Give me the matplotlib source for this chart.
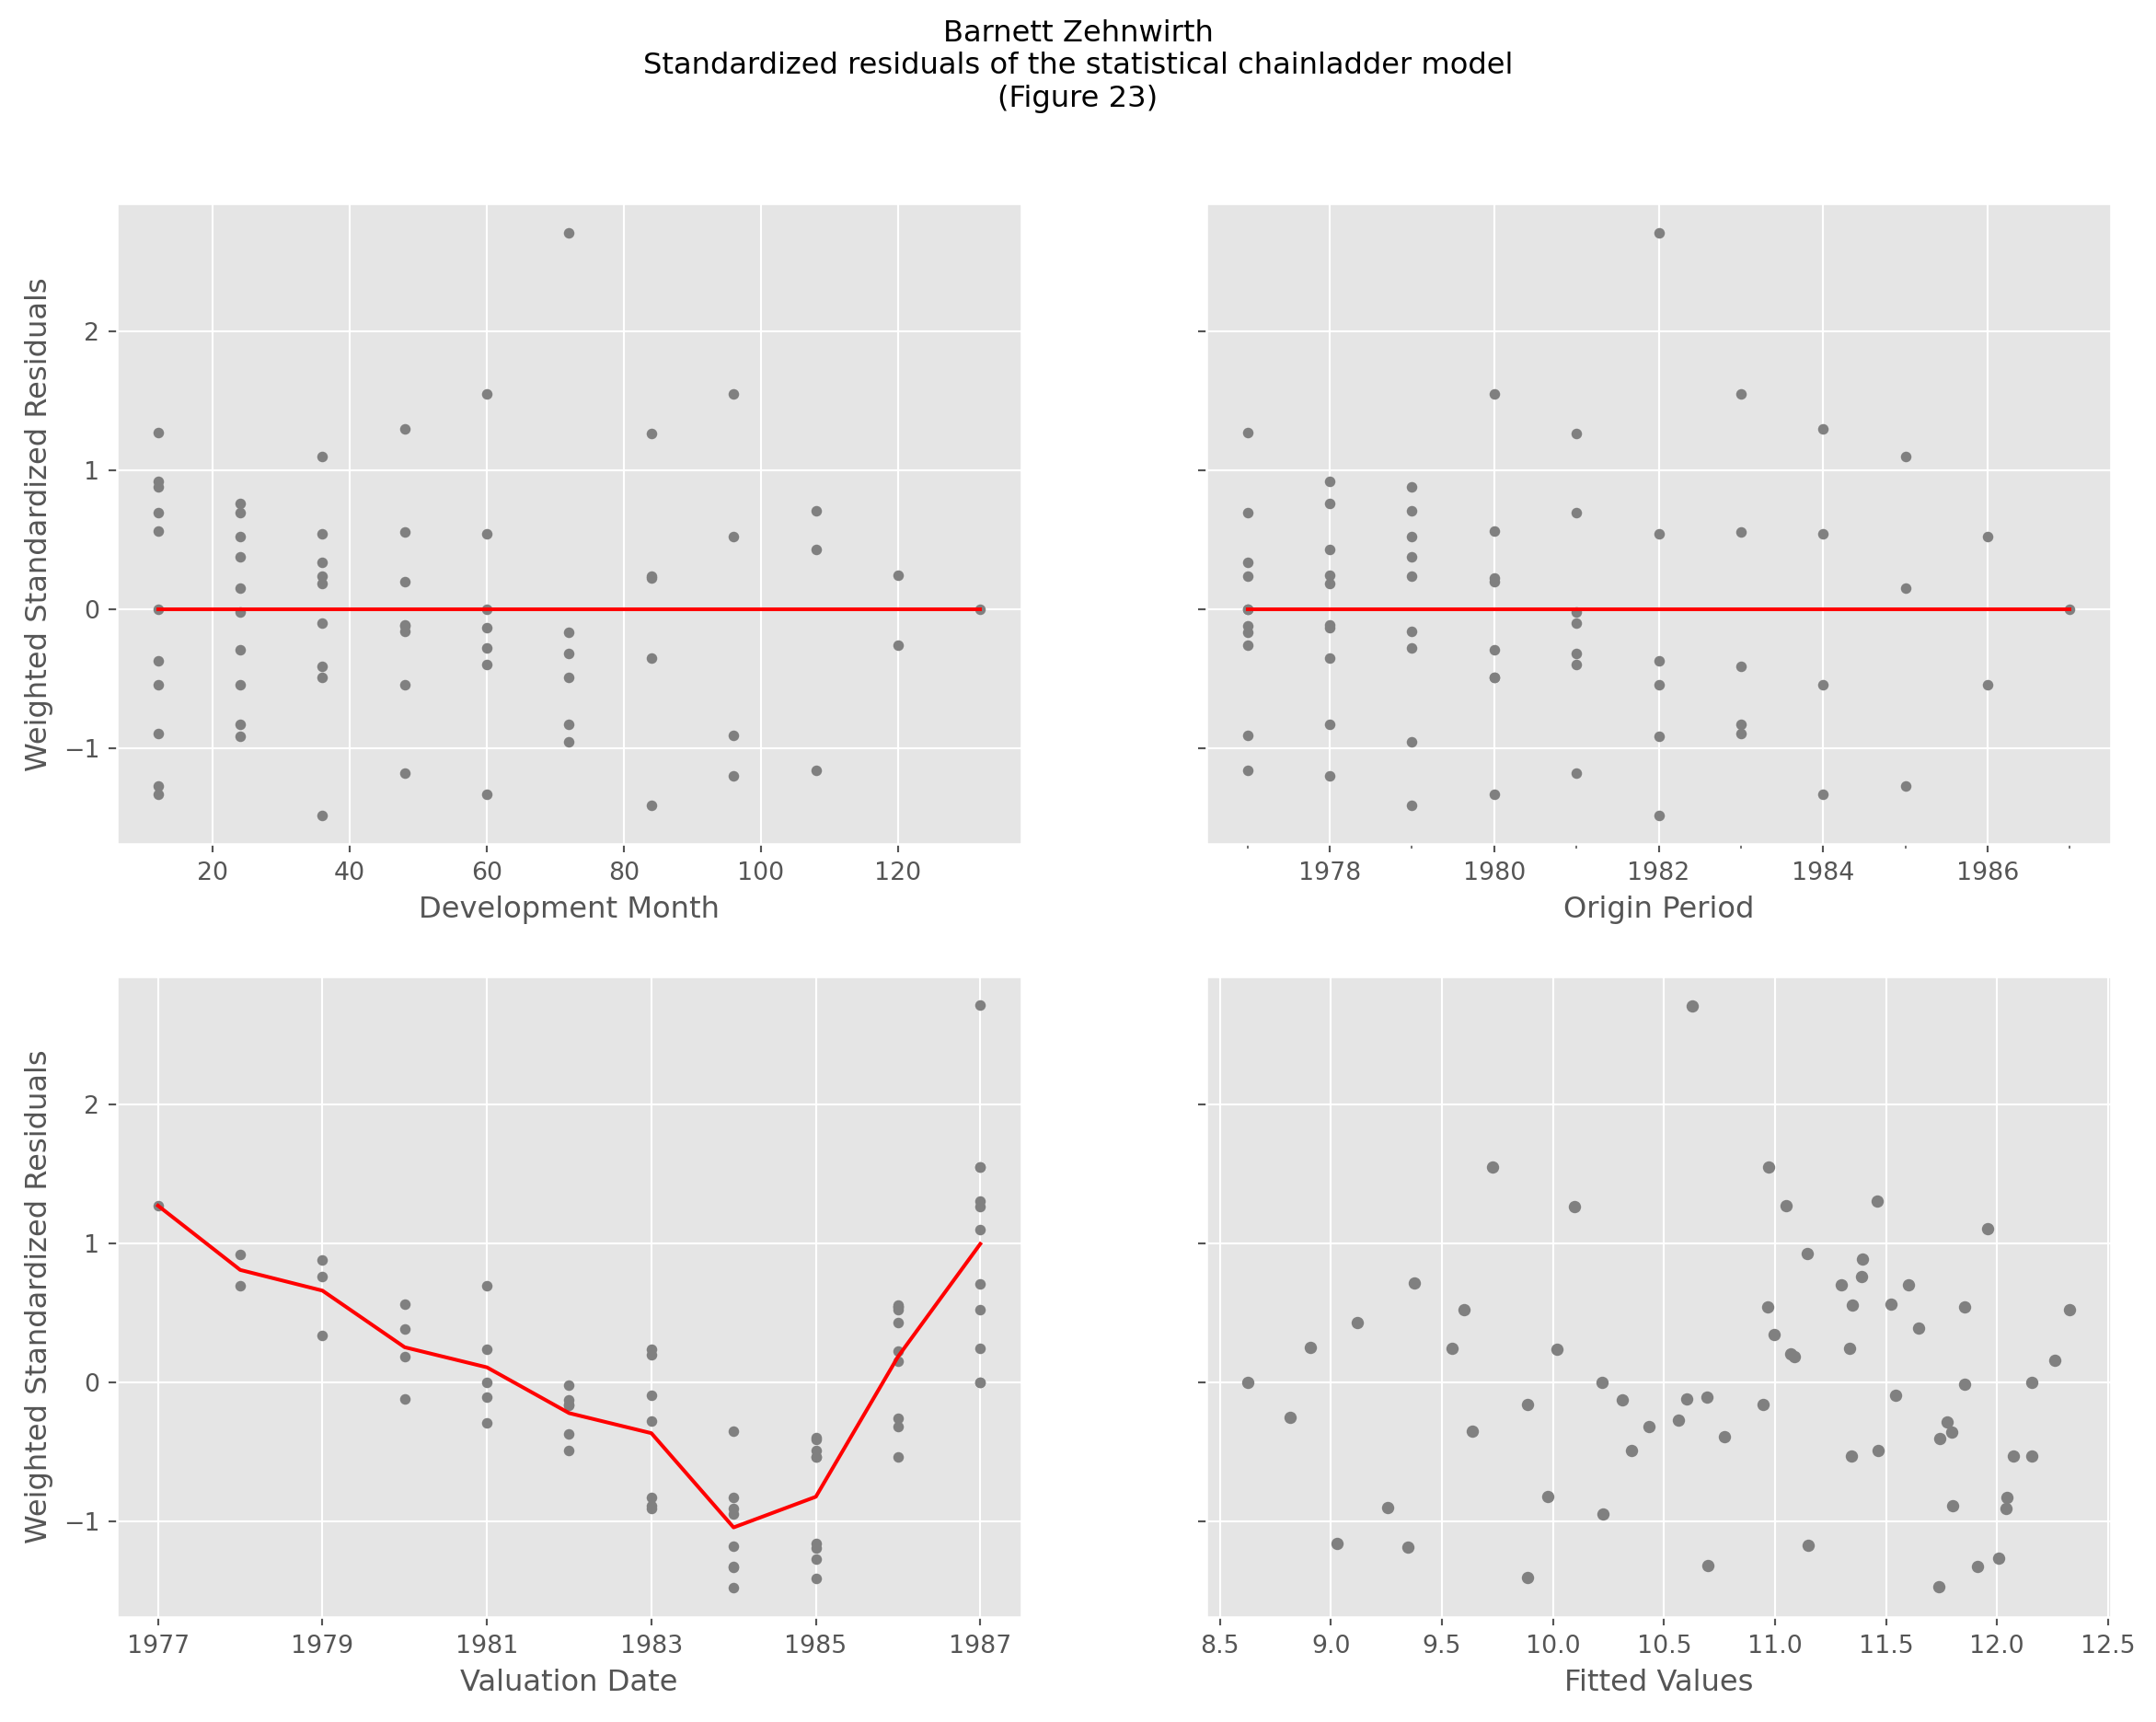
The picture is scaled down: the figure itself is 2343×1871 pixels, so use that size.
import matplotlib
matplotlib.use("Agg")
import matplotlib.pyplot as plt
import numpy as np
import pandas as pd

plt.style.use("ggplot")

# ---- data -------------------------------------------------------------
origins = [1977, 1978, 1979, 1980, 1981, 1982, 1983, 1984, 1985, 1986, 1987]
dev_months = [12, 24, 36, 48, 60, 72, 84, 96, 108, 120, 132]

# weighted standardized residuals, one row per origin period (by development)
resid_1977 = [1.27, 0.695, 0.336, -0.12, 0.0, -0.164, 0.24, -0.906, -1.16, -0.26, 0.0]
resid_1978 = [0.92, 0.76, 0.186, -0.11, -0.13, -0.83, -0.352, -1.195, 0.428, 0.245]
resid_1979 = [0.88, 0.38, 0.24, -0.16, -0.277, -0.95, -1.41, 0.522, 0.71]
resid_1980 = [0.56, -0.29, -0.49, 0.198, -1.327, -0.49, 0.226, 1.547]
resid_1981 = [0.695, -0.02, -0.097, -1.18, -0.40, -0.32, 1.264]
resid_1982 = [-0.37, -0.91, -1.48, -0.54, 0.54, 2.71]
resid_1983 = [-0.89, -0.83, -0.41, 0.553, 1.547]
resid_1984 = [-1.33, -0.54, 0.54, 1.30]
resid_1985 = [-1.27, 0.154, 1.10]
resid_1986 = [-0.54, 0.52]
resid_1987 = [0.0]

# trend lines of the top panels
dev_trend = [0.0] * len(dev_months)
origin_trend = [0.0] * len(origins)

# fitted values panel
fitted_x = [8.624, 8.814, 8.905, 9.029, 9.118, 9.256, 9.347, 9.376, 9.545, 9.599,
            9.636, 9.727, 9.884, 9.887, 9.975, 10.017, 10.095, 10.223, 10.227, 10.313,
            10.354, 10.434, 10.565, 10.603, 10.628, 10.695, 10.699, 10.773, 10.946, 10.967,
            10.971, 10.994, 11.049, 11.071, 11.088, 11.144, 11.151, 11.300, 11.338, 11.344,
            11.349, 11.391, 11.396, 11.460, 11.464, 11.523, 11.544, 11.601, 11.647, 11.736,
            11.742, 11.774, 11.795, 11.799, 11.852, 11.852, 11.911, 11.957, 12.008, 12.046,
            12.042, 12.075, 12.158, 12.158, 12.261, 12.328]
fitted_y = [0.0, -0.256, 0.25, -1.157, 0.431, -0.90, -1.187, 0.714, 0.241, 0.524,
            -0.349, 1.545, -0.16, -1.407, -0.822, 0.235, 1.265, 0.0, -0.946, -0.127,
            -0.488, -0.316, -0.271, -0.12, 2.708, -0.105, -1.319, -0.395, -0.16, 0.542,
            1.545, 0.34, 1.271, 0.205, 0.187, 0.925, -1.175, 0.699, 0.241, -0.53,
            0.557, 0.759, 0.886, 1.304, -0.488, 0.563, -0.093, 0.699, 0.386, -1.47,
            -0.404, -0.283, -0.361, -0.886, 0.542, -0.015, -1.325, 1.102, -1.265, -0.828,
            -0.907, -0.53, 0.0, -0.53, 0.157, 0.524]

rows = [resid_1977, resid_1978, resid_1979, resid_1980, resid_1981, resid_1982,
        resid_1983, resid_1984, resid_1985, resid_1986, resid_1987]
records = []
for o, row in zip(origins, rows):
    for j, r in enumerate(row):
        records.append({"origin": o, "dev": dev_months[j],
                        "valuation": o + j, "resid": r})
df = pd.DataFrame(records)
val_mean = df.groupby("valuation")["resid"].mean()

# ---- figure -----------------------------------------------------------
DPI = 193
fig, axes = plt.subplots(2, 2, figsize=(2343 / DPI, 1871 / DPI), dpi=DPI, sharey=True)
fig.subplots_adjust(left=0.0542, right=0.9791, top=0.8819, bottom=0.0609,
                    wspace=0.2045, hspace=0.206)

dot = dict(linestyle="none", marker="o", color="gray", markeredgewidth=0,
           markersize=4.3)
red = dict(color="red", linewidth=1.5)

ax = axes[0, 0]
ax.plot(df["dev"], df["resid"], **dot)
ax.plot(dev_months, dev_trend, **red)
ax.set_xlabel("Development Month")
ax.set_ylabel("Weighted Standardized Residuals")

ax = axes[0, 1]
ax.plot(df["origin"], df["resid"], **dot)
ax.plot(origins, origin_trend, **red)
ax.set_xlabel("Origin Period")
ax.set_xticks([1978, 1980, 1982, 1984, 1986])
ax.set_xticks([1977, 1979, 1981, 1983, 1985, 1987], minor=True)
ax.tick_params(axis="x", which="minor", length=2, color="#555555")

ax = axes[1, 0]
ax.plot(df["valuation"], df["resid"], **dot)
ax.plot(val_mean.index, val_mean.values, **red)
ax.set_xlabel("Valuation Date")
ax.set_ylabel("Weighted Standardized Residuals")
ax.set_xticks([1977, 1979, 1981, 1983, 1985, 1987])

ax = axes[1, 1]
ax.plot(fitted_x, fitted_y, linestyle="none", marker="o", color="gray",
        markeredgewidth=0, markersize=5.0)
ax.set_xlabel("Fitted Values")
ax.set_xticks(np.arange(8.5, 12.51, 0.5))

for a in axes.flat:
    a.set_yticks([-1, 0, 1, 2])
    a.grid(True, which="major", color="white")

fig.suptitle("Barnett Zehnwirth\nStandardized residuals of the statistical chainladder model\n(Figure 23)",
             fontsize=12, y=0.989, va="top")

fig.savefig("out.png", dpi=DPI)
